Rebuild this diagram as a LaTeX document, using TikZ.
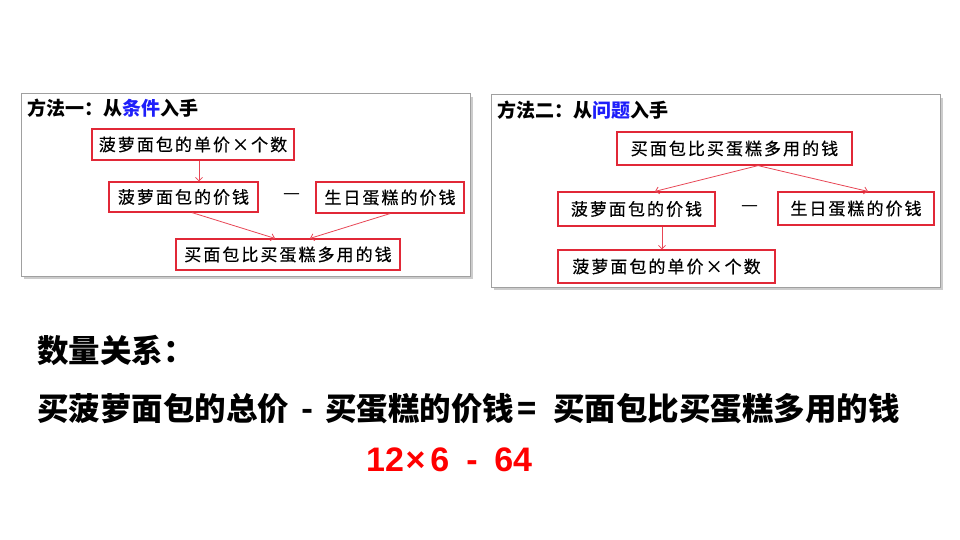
\documentclass[tikz,border=0pt]{standalone}
\usepackage{fontspec}
\usetikzlibrary{arrows.meta,shadows,calc}
\newfontfamily\cjk{Noto Sans CJK SC}
\newfontfamily\cjkbox{Noto Sans CJK SC}[LetterSpace=12,FakeBold=0.4]
\newfontfamily\arialb{Liberation Sans}
\definecolor{boxred}{RGB}{225,40,55}
\definecolor{arrred}{RGB}{232,70,85}
\definecolor{titleblue}{RGB}{30,30,250}
\definecolor{panelgray}{RGB}{160,160,160}
\definecolor{eqred}{RGB}{255,0,0}
\tikzset{
  panel/.style={draw=panelgray, line width=1pt, fill=white, inner sep=0pt,
    drop shadow={shadow xshift=3pt, shadow yshift=-3pt, opacity=0.4, fill=gray}},
  qbox/.style={draw=boxred, line width=1.2pt, inner sep=0pt, fill=white,
    font=\cjkbox\fontsize{17}{17}\selectfont},
  arr/.style={draw=arrred, line width=0.8pt, -{Straight Barb[length=3.5pt,width=7pt]}},
  title/.style={anchor=west, inner sep=0pt, font=\cjk\bfseries\fontsize{19}{19}\selectfont},
  big/.style={anchor=west, inner sep=0pt, font=\cjk\bfseries\fontsize{31.5}{31.5}\selectfont},
  minus/.style={inner sep=0pt, font=\cjk\fontsize{19}{19}\selectfont},
}
\begin{document}
\begin{tikzpicture}[x=1pt,y=-1pt]
\useasboundingbox (0,0) rectangle (960,540);
\fill[white] (0,0) rectangle (960,540);
% panels
\node[panel, minimum width=449, minimum height=182] (p1) at (245.5,185) {};
\node[panel, minimum width=449, minimum height=192] (p2) at (715.5,191) {};
% titles
\node[title] (t1) at (27,108.5) {方法一：从\textcolor{titleblue}{条件}入手};
\node[title] (t2) at (497,110.5) {方法二：从\textcolor{titleblue}{问题}入手};
% panel 1 boxes
\node[qbox, minimum width=202, minimum height=31] (a1) at (193,144.5) {菠萝面包的单价×个数};
\node[qbox, minimum width=149, minimum height=30] (b1) at (183.5,197) {菠萝面包的价钱};
\node[qbox, minimum width=148, minimum height=31] (c1) at (390,197.5) {生日蛋糕的价钱};
\node[qbox, minimum width=224, minimum height=31] (d1) at (288,254.5) {买面包比买蛋糕多用的钱};
\node[minus] (m1) at (292,197) {—};
\draw[arr] ([xshift=6]a1.south) -- ([xshift=6]a1.south |- b1.north);
\draw[arr] ([xshift=8.5]b1.south) -- ([xshift=-13]d1.north);
\draw[arr] (c1.south) -- ([xshift=22]d1.north);
% panel 2 boxes
\node[qbox, minimum width=235, minimum height=33] (a2) at (734.5,148.5) {买面包比买蛋糕多用的钱};
\node[qbox, minimum width=157, minimum height=34] (b2) at (636.5,209) {菠萝面包的价钱};
\node[qbox, minimum width=156, minimum height=33] (c2) at (856,208.5) {生日蛋糕的价钱};
\node[qbox, minimum width=217, minimum height=33] (d2) at (666.5,266.5) {菠萝面包的单价×个数};
\node[minus] (m2) at (750,209) {—};
\draw[arr] ([xshift=23.5]a2.south) -- ([xshift=18.5]b2.north);
\draw[arr] ([xshift=23.5]a2.south) -- ([xshift=12]c2.north);
\draw[arr] ([xshift=25.5]b2.south) -- ([xshift=25.5]b2.south |- d2.north);
% bottom text
\node[big] (q1) at (37,350) {数量关系：};
\node[big] (q2) at (37,409) {买菠萝面包的总价\hspace{12pt}-\hspace{12pt}买蛋糕的价钱\hspace{3pt}=\hspace{17pt}买面包比买蛋糕多用的钱};
\node[anchor=west, inner sep=0pt, text=eqred, font=\arialb\bfseries\fontsize{34}{34}\selectfont] (eq) at (366,459.5) {12\hspace{1.5pt}×\hspace{5pt}6\hspace{17pt}-\hspace{16.7pt}64};
\end{tikzpicture}
\end{document}
